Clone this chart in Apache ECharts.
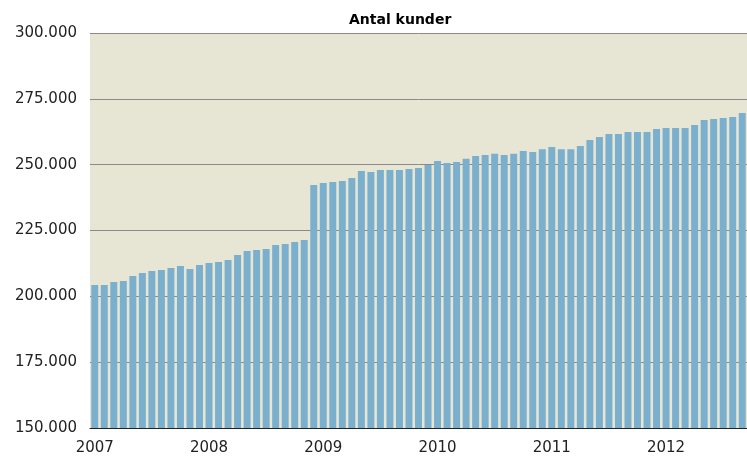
<!DOCTYPE html>
<html>
<head>
<meta charset="utf-8">
<script src="https://cdn.jsdelivr.net/npm/echarts@6/dist/echarts.min.js"></script>
<style>
  html, body { margin: 0; padding: 0; background: #fff; }
  #chart { width: 747px; height: 459px; }
</style>
</head>
<body>
<div id="chart"></div>
<script>
// monthly customer counts, Jan 2007 - Sep 2012
const years = [2007, 2008, 2009, 2010, 2011, 2012];
const customers = [
  204300, 204300, 205400, 205800, 207700, 208900, 209600, 210000, 210800, 211500, 210400, 211900,
  212700, 213000, 213800, 215700, 217200, 217600, 218000, 219500, 219900, 220600, 221400, 242300,
  243000, 243400, 243800, 244900, 247600, 247200, 248000, 248000, 248000, 248400, 248700, 249900,
  251400, 250600, 251000, 252200, 253300, 253700, 254100, 253700, 254100, 255200, 254800, 255900,
  256700, 255900, 255900, 257100, 259400, 260500, 261600, 261600, 262400, 262400, 262400, 263500,
  263900, 263900, 263900, 265100, 267000, 267300, 267700, 268100, 269600
];
const yTicks = [150000, 175000, 200000, 225000, 250000, 275000, 300000];

// one category per month
const months = customers.map((_, i) => {
  const y = years[0] + Math.floor(i / 12);
  const m = (i % 12) + 1;
  return y + '-' + (m < 10 ? '0' + m : m);
});

const fmtThousands = (v) => String(v).replace(/\B(?=(\d{3})+(?!\d))/g, '.');

const chart = echarts.init(document.getElementById('chart'));

chart.setOption({
  animation: false,
  title: {
    text: 'Antal kunder',
    left: 344,
    top: 8,
    textStyle: { fontFamily: 'DejaVu Sans', fontSize: 14, fontWeight: 'bold', color: '#000' }
  },
  grid: {
    left: 90,
    top: 33,
    width: 662,
    height: 395,
    show: true,
    backgroundColor: '#E7E5D3',
    borderWidth: 0
  },
  xAxis: {
    type: 'category',
    data: months,
    axisLine: { lineStyle: { color: '#222', width: 1 } },
    axisTick: {
      alignWithLabel: false,
      length: 5,
      interval: (idx) => idx % 12 === 0,
      lineStyle: { color: '#222' }
    },
    axisLabel: {
      interval: (idx) => idx % 12 === 0,
      formatter: (v) => v.slice(0, 4),
      fontFamily: 'DejaVu Sans',
      fontSize: 15,
      color: '#222',
      margin: 13
    }
  },
  yAxis: {
    type: 'value',
    min: yTicks[0],
    max: yTicks[yTicks.length - 1],
    interval: 25000,
    axisLine: { show: false },
    axisTick: { show: false },
    splitLine: { lineStyle: { color: '#8a8a8a', width: 1 } },
    axisLabel: {
      formatter: fmtThousands,
      fontFamily: 'DejaVu Sans',
      fontSize: 15,
      color: '#222',
      margin: 13
    }
  },
  series: [{
    type: 'bar',
    data: customers,
    barCategoryGap: '27%',
    itemStyle: { color: '#7BAFCE' }
  }]
});
</script>
</body>
</html>
